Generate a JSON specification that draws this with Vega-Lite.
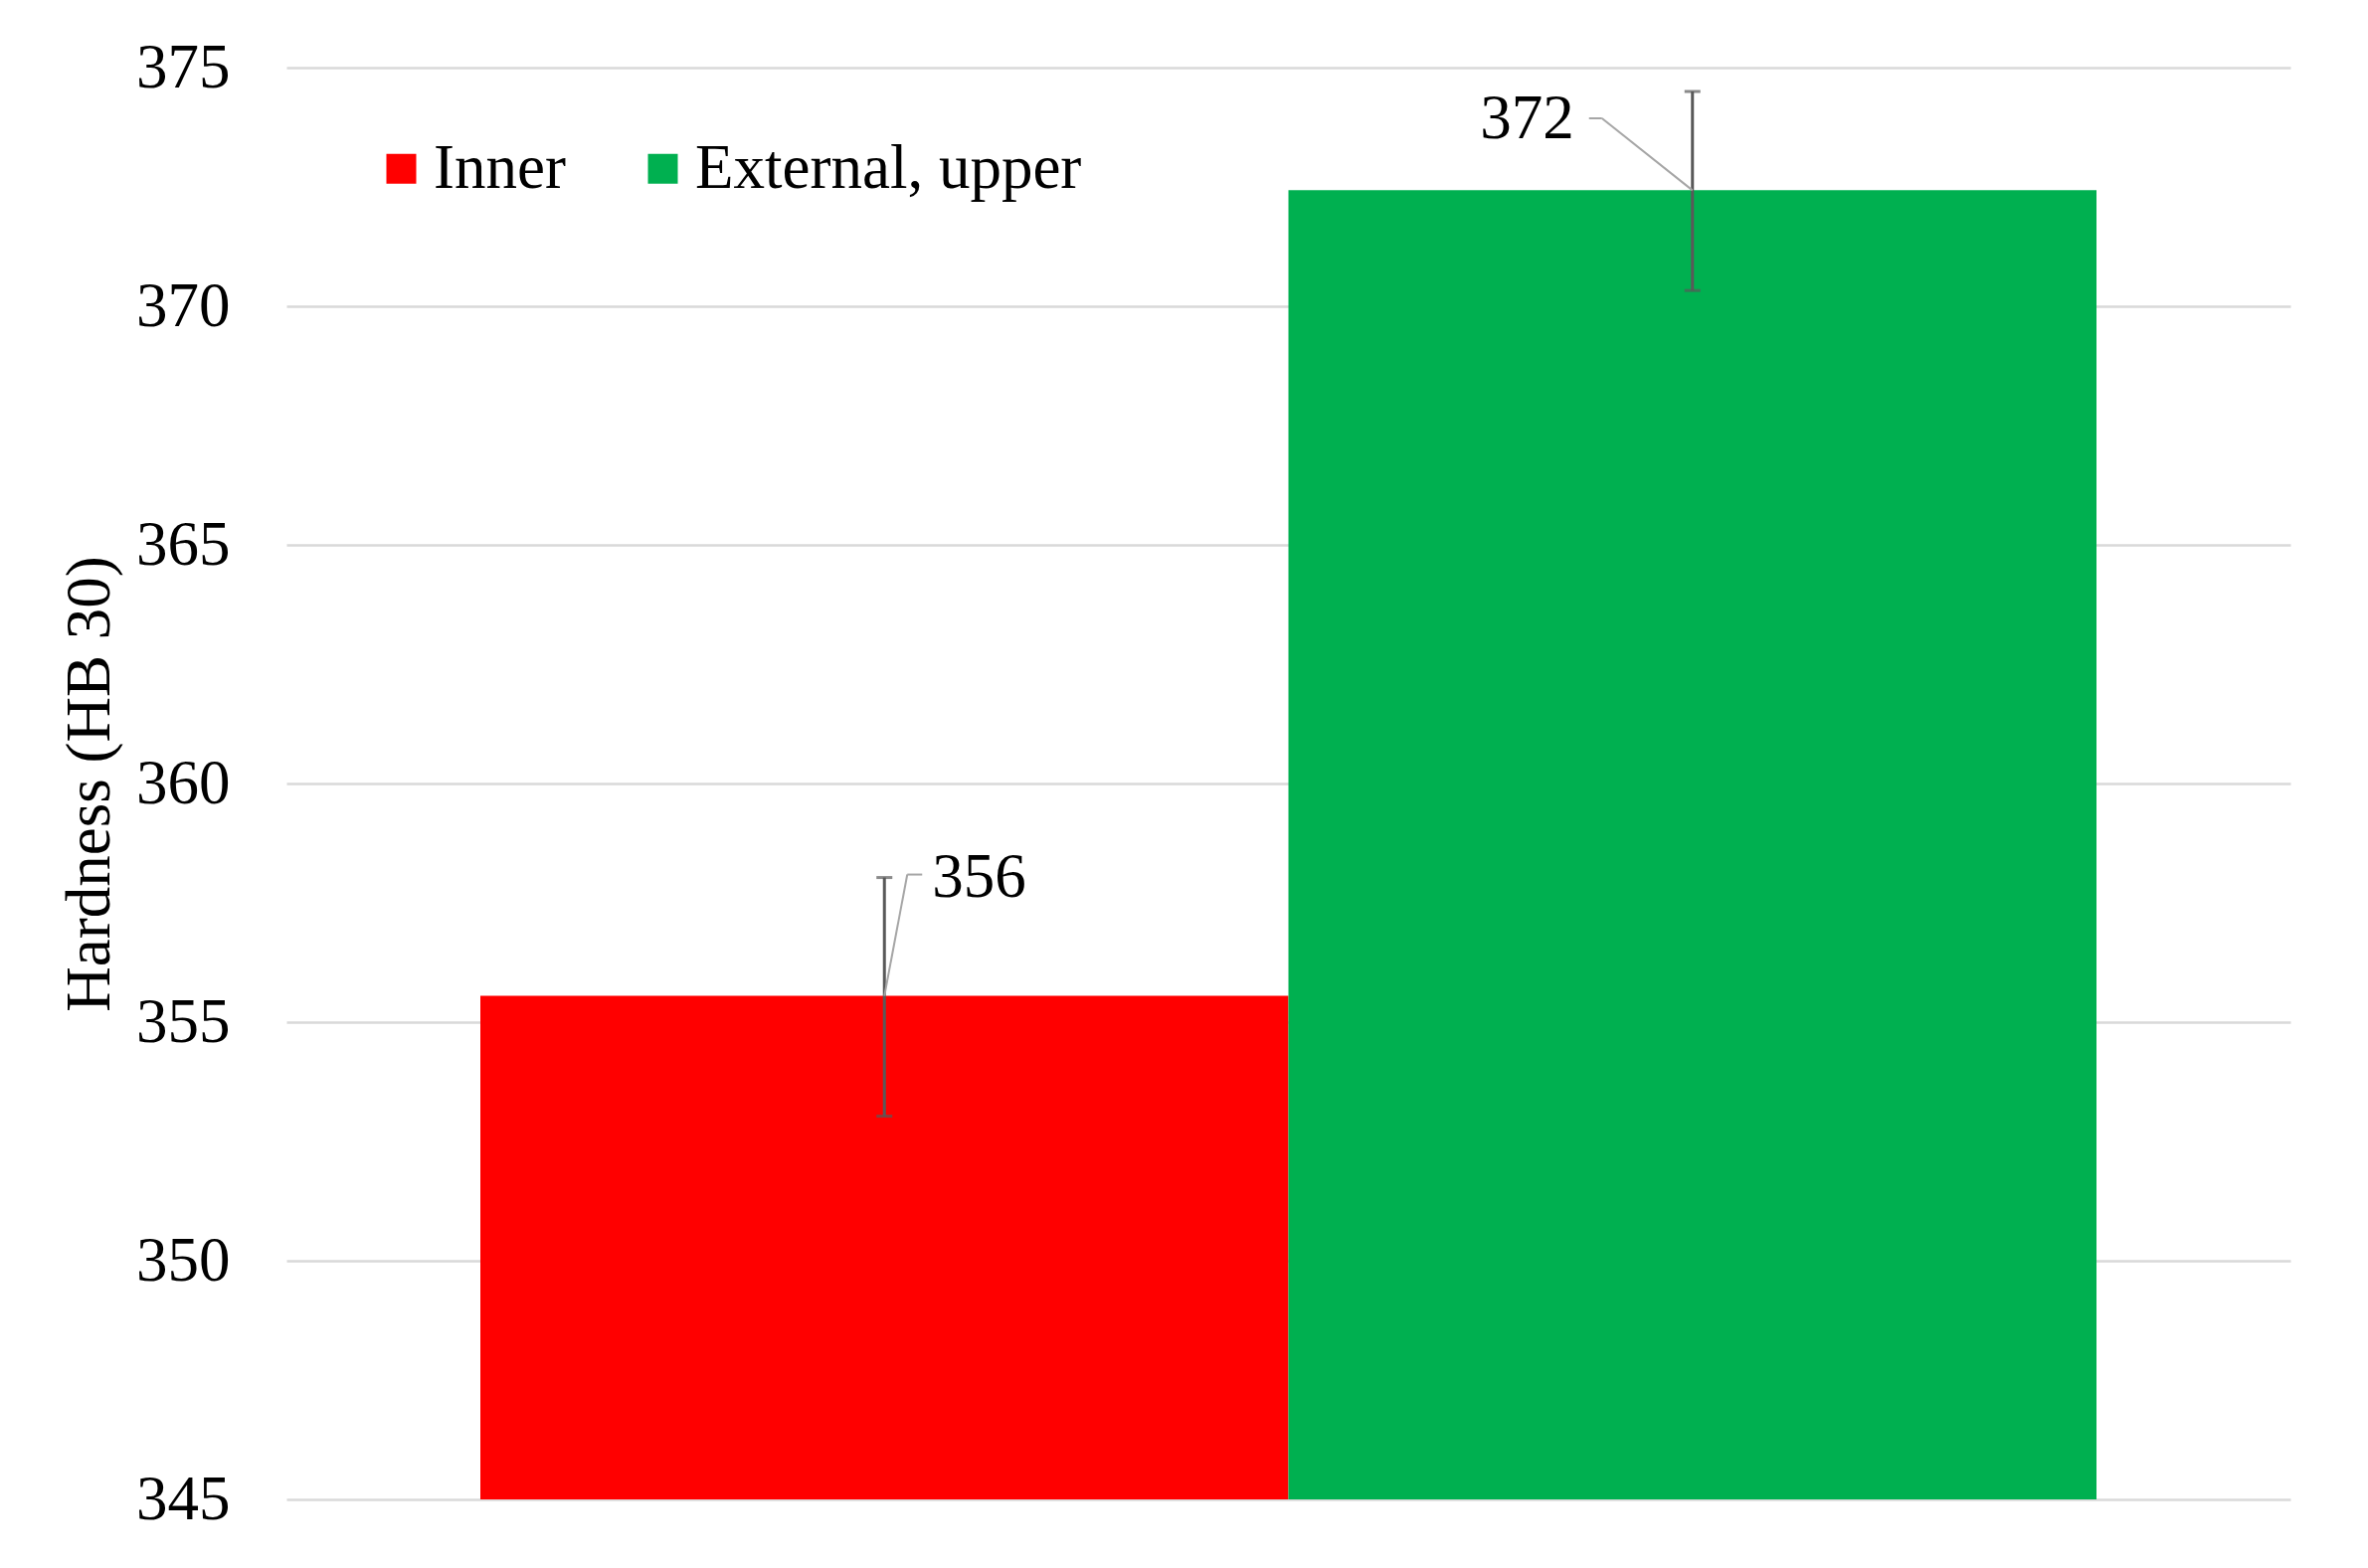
{
  "$schema": "https://vega.github.io/schema/vega-lite/v6.json",
  "width": 2015,
  "height": 1440,
  "autosize": "none",
  "padding": {"left": 288, "top": 68, "right": 78, "bottom": 69},
  "background": "white",
  "config": {
    "font": "Liberation Serif",
    "view": {"stroke": null},
    "axis": {"labelFont": "Liberation Serif", "titleFont": "Liberation Serif"},
    "legend": {"labelFont": "Liberation Serif"}
  },
  "data": {
    "values": [
      {"cat": "Inner", "value": 355.55, "lo": 353.03, "hi": 358.03, "label": "356"},
      {"cat": "External, upper", "value": 372.43, "lo": 370.33, "hi": 374.5, "label": "372"}
    ]
  },
  "encoding": {
    "x": {
      "field": "cat",
      "type": "nominal",
      "sort": ["Inner", "External, upper"],
      "scale": {"paddingInner": 0, "paddingOuter": 0.24},
      "axis": null
    }
  },
  "layer": [
    {
      "mark": {"type": "bar", "clip": true},
      "encoding": {
        "y": {
          "field": "value",
          "type": "quantitative",
          "scale": {"domain": [345, 375], "nice": false, "zero": false},
          "axis": {
            "values": [345, 350, 355, 360, 365, 370, 375],
            "title": "Hardness (HB 30)",
            "titleFontSize": 63,
            "titleFontWeight": "normal",
            "titleColor": "black",
            "titlePadding": 14,
            "labelFontSize": 63,
            "labelColor": "black",
            "labelPadding": 57,
            "ticks": false,
            "domain": false,
            "grid": true,
            "gridColor": "#d9d9d9",
            "gridWidth": 2.5
          }
        },
        "color": {
          "field": "cat",
          "type": "nominal",
          "scale": {"domain": ["Inner", "External, upper"], "range": ["#ff0000", "#00b050"]},
          "legend": {
            "title": null,
            "orient": "none",
            "legendX": 84,
            "legendY": 70,
            "direction": "horizontal",
            "symbolType": "square",
            "symbolSize": 900,
            "symbolStrokeWidth": 0,
            "symbolOpacity": 1,
            "labelFontSize": 63,
            "labelColor": "black",
            "labelOffset": 1,
            "labelLimit": 0,
            "columnPadding": 66,
            "padding": 0
          }
        }
      }
    },
    {
      "mark": {"type": "rule", "color": "#595959", "strokeWidth": 3},
      "encoding": {
        "y": {"field": "lo", "type": "quantitative"},
        "y2": {"field": "hi"}
      }
    },
    {
      "mark": {"type": "tick", "color": "#595959", "thickness": 3, "size": 16, "orient": "horizontal"},
      "encoding": {"y": {"field": "lo", "type": "quantitative"}}
    },
    {
      "mark": {"type": "tick", "color": "#595959", "thickness": 3, "size": 16, "orient": "horizontal"},
      "encoding": {"y": {"field": "hi", "type": "quantitative"}}
    },
    {
      "transform": [{"filter": "datum.cat === 'Inner'"}],
      "mark": {"type": "rule", "color": "#a6a6a6", "strokeWidth": 2, "x2Offset": 23, "y2Offset": -3},
      "encoding": {
        "x2": {"field": "cat"},
        "y": {"field": "value", "type": "quantitative"},
        "y2": {"field": "hi"}
      }
    },
    {
      "transform": [{"filter": "datum.cat === 'Inner'"}],
      "mark": {"type": "rule", "color": "#a6a6a6", "strokeWidth": 2, "xOffset": 23, "x2Offset": 38, "yOffset": -3},
      "encoding": {
        "x2": {"field": "cat"},
        "y": {"field": "hi", "type": "quantitative"}
      }
    },
    {
      "transform": [{"filter": "datum.cat === 'Inner'"}],
      "mark": {"type": "text", "align": "left", "baseline": "middle", "dx": 48, "fontSize": 63, "color": "black"},
      "encoding": {
        "y": {"field": "hi", "type": "quantitative"},
        "text": {"field": "label"}
      }
    },
    {
      "transform": [{"filter": "datum.cat === 'External, upper'"}],
      "mark": {"type": "rule", "color": "#a6a6a6", "strokeWidth": 2, "x2Offset": -91, "y2Offset": 27},
      "encoding": {
        "x2": {"field": "cat"},
        "y": {"field": "value", "type": "quantitative"},
        "y2": {"field": "hi"}
      }
    },
    {
      "transform": [{"filter": "datum.cat === 'External, upper'"}],
      "mark": {"type": "rule", "color": "#a6a6a6", "strokeWidth": 2, "xOffset": -91, "x2Offset": -104, "yOffset": 27},
      "encoding": {
        "x2": {"field": "cat"},
        "y": {"field": "hi", "type": "quantitative"}
      }
    },
    {
      "transform": [{"filter": "datum.cat === 'External, upper'"}],
      "mark": {"type": "text", "align": "right", "baseline": "middle", "dx": -119, "dy": 28, "fontSize": 63, "color": "black"},
      "encoding": {
        "y": {"field": "hi", "type": "quantitative"},
        "text": {"field": "label"}
      }
    }
  ]
}
